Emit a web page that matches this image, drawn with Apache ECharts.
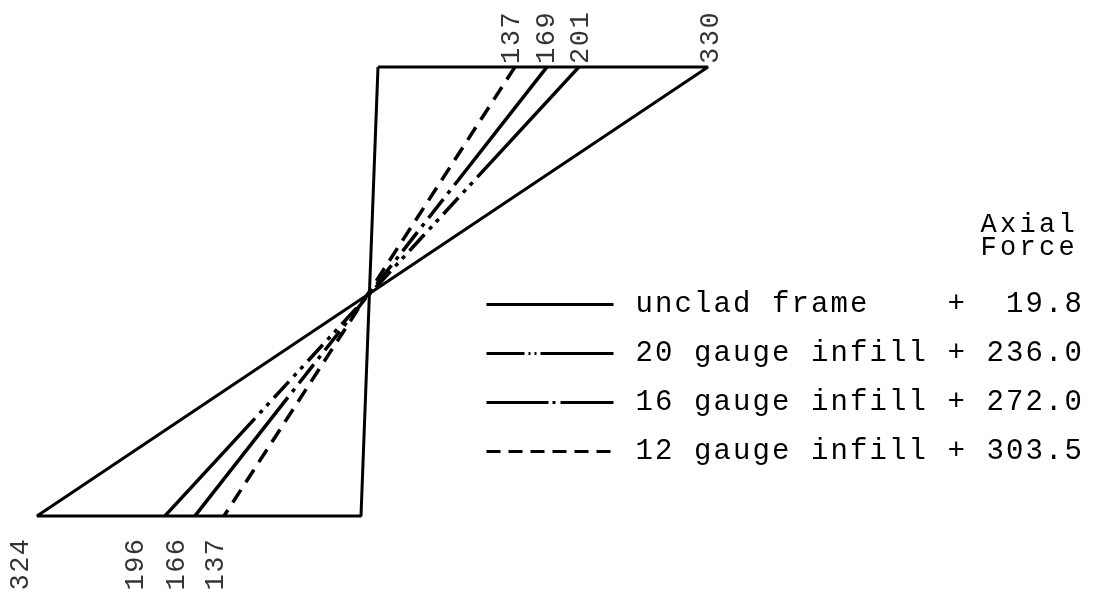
<!DOCTYPE html>
<html>
<head>
<meta charset="utf-8">
<script src="https://cdn.jsdelivr.net/npm/echarts@6/dist/echarts.min.js"></script>
<style>
html,body{margin:0;padding:0;background:#fff;}
#chart{width:1097px;height:599px;}
</style>
</head>
<body>
<div id="chart"></div>
<script>
// Bending moments at the top (right side) and bottom (left side) of the column
const seriesNames   = ['unclad frame', '20 gauge infill', '16 gauge infill', '12 gauge infill'];
const topMoments    = [330, 201, 169, 137];
const bottomMoments = [324, 196, 166, 137];
const axialForces   = ['19.8', '236.0', '272.0', '303.5'];
const topTickLabels    = ['330', '201', '169', '137'];
const bottomTickLabels = ['324', '196', '166', '137'];
const legendTitle = 'Axial\nForce';

// ---- geometry / style (not data) ----
const columnTop = 8;      // column drawn slightly off vertical, as in the original
const columnBottom = -9;
const memberTop = 1;
const memberBottom = 0;
const topLabelNudge = [3, 2, 0, -3];
const bottomLabelNudge = [-16, -29, -18, -8];
const FONT = 'Liberation Mono';

function buildDash(len, solidEnd, unit) {
  const arr = [solidEnd];
  let pos = solidEnd;
  while (pos < len - solidEnd) {
    for (const [g, d] of unit) { arr.push(g, d); pos += g + d; }
  }
  arr[arr.length - 1] += 1000;
  arr.push(10);
  return arr;
}
const dashes = [
  'solid',
  buildDash(613, 150, [[7, 4], [6, 4], [7, 22]]),
  buildDash(574, 150, [[7, 4], [7, 24]]),
  [15, 9]
];
const legendDashes = ['solid', [38, 4, 2, 4, 2, 4, 200, 10], [62, 4, 3, 5, 200, 10], [14, 8]];

function spaced(str, style) {
  return str.split('\n').map(line => line.split('').map(ch => '{' + style + '|' + ch + '}').join('')).join('\n');
}

const series = seriesNames.map((name, i) => {
  let data;
  if (i === 0) {
    data = [
      [columnTop, memberTop],
      [columnTop + topMoments[i], memberTop],
      [columnBottom - bottomMoments[i], memberBottom],
      [columnBottom, memberBottom],
      [columnTop, memberTop]
    ];
  } else {
    data = [
      [columnTop + topMoments[i], memberTop],
      [columnBottom - bottomMoments[i], memberBottom]
    ];
  }
  return {
    name: name,
    type: 'line',
    data: data,
    symbol: 'none',
    silent: true,
    lineStyle: {color: '#000', width: i === 0 ? 3 : 3.5, type: dashes[i]},
    itemStyle: {color: '#000'}
  };
});

const tickRich = {d: {width: 17.7, fontFamily: FONT, fontSize: 27, color: '#000', lineHeight: 22}};

series.push({
  name: 'topLabels',
  type: 'scatter',
  symbolSize: 0,
  silent: true,
  data: topMoments.map((v, i) => ({
    value: [columnTop + v, memberTop, topTickLabels[i]],
    label: {offset: [0, topLabelNudge[i]]}
  })),
  label: {
    show: true, position: 'top', distance: 3, rotate: 90,
    align: 'left', verticalAlign: 'middle',
    formatter: p => spaced(p.value[2], 'd'),
    rich: tickRich
  }
});
series.push({
  name: 'bottomLabels',
  type: 'scatter',
  symbolSize: 0,
  silent: true,
  data: bottomMoments.map((v, i) => ({
    value: [columnBottom - v, memberBottom, bottomTickLabels[i]],
    label: {offset: [0, bottomLabelNudge[i]]}
  })),
  label: {
    show: true, position: 'bottom', distance: 23, rotate: 90,
    align: 'right', verticalAlign: 'middle',
    formatter: p => spaced(p.value[2], 'd'),
    rich: tickRich
  }
});

function pad(s, n) { while (s.length < n) s += ' '; return s; }
function lpad(s, n) { while (s.length < n) s = ' ' + s; return s; }
const legendText = {};
seriesNames.forEach((n, i) => { legendText[n] = '{g|}' + spaced(pad(n, 16) + '+ ' + lpad(axialForces[i], 5), 'c'); });

const hidden = 'rgba(0,0,0,0)';
const chart = echarts.init(document.getElementById('chart'));
chart.setOption({
  backgroundColor: '#fff',
  animation: false,
  title: {
    text: spaced(legendTitle, 't'),
    right: 14, top: 208,
    textStyle: {
      fontWeight: 'normal',
      rich: {t: {width: 19.5, fontFamily: FONT, fontSize: 27, fontWeight: 'normal', color: '#000', lineHeight: 23}}
    }
  },
  legend: {
    orient: 'vertical',
    left: 480, top: 285,
    itemWidth: 127, itemHeight: 30, itemGap: 20,
    data: seriesNames.map((n, i) => ({
      name: n,
      lineStyle: {type: legendDashes[i], width: 3, color: '#000'},
      itemStyle: {color: hidden, borderColor: hidden, borderWidth: 0, opacity: 0}
    })),
    formatter: n => legendText[n],
    textStyle: {
      color: '#000',
      rich: {
        g: {width: 17},
        c: {width: 19.5, fontFamily: FONT, fontSize: 29, color: '#000', lineHeight: 30}
      }
    },
    selectedMode: false
  },
  grid: {left: 0, right: 0, top: 0, bottom: 0},
  xAxis: {type: 'value', min: -370, max: 727, show: false},
  yAxis: {type: 'value', min: -0.185, max: 1.149, show: false},
  series: series
});
</script>
</body>
</html>
